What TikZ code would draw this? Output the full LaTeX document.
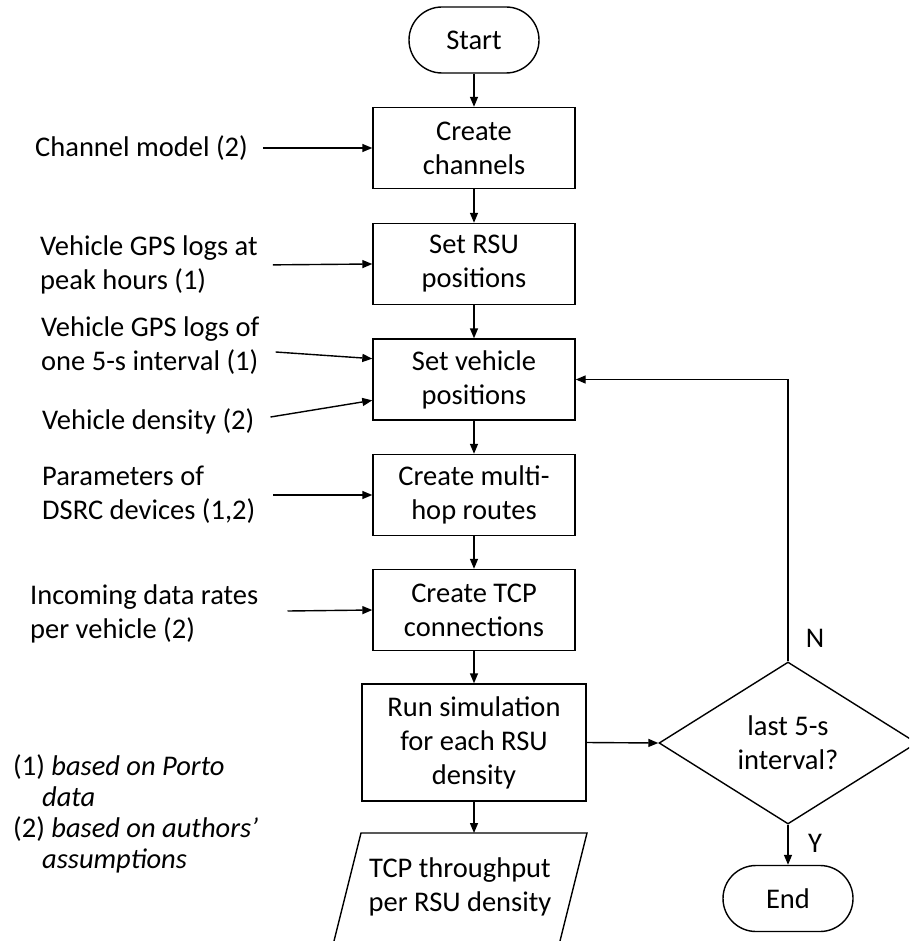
\documentclass[tikz,border=0pt]{standalone}
\usepackage{fontspec}
\setmainfont{Carlito}
\usetikzlibrary{shapes.geometric,arrows.meta,calc}
\begin{document}
\begin{tikzpicture}[x=1pt,y=-1pt,
  every node/.style={font=\fontsize{28.5}{34}\selectfont, inner sep=0pt},
  proc/.style={draw, line width=1.4pt, minimum width=202pt, minimum height=81pt, align=center},
  term/.style={draw, line width=1.4pt, rounded corners=33pt, minimum width=130pt, minimum height=66pt},
  inp/.style={anchor=west, align=left},
  arr/.style={line width=1.4pt, -{Triangle[length=10pt,width=8pt]}},
  dec/.style={draw, diamond, aspect=1.6, minimum width=258pt, minimum height=162pt, align=center, line width=1.4pt},
  lab/.style={}
]
\useasboundingbox (0,0) rectangle (909,941);
\clip (0,0) rectangle (909,941);

% main flow
\node[term] (start) at (474,40) {Start};
\node[proc] (ch) at (474,148) {Create\\channels};
\node[proc] (rsu) at (474,264) {Set RSU\\positions};
\node[proc] (veh) at (474,379.5) {Set vehicle\\positions};
\node[proc] (mh) at (474,495) {Create multi-\\hop routes};
\node[proc] (tcp) at (474,610) {Create TCP\\connections};
\node[proc, minimum width=224pt, minimum height=117pt] (run) at (474,742.5) {Run simulation\\for each RSU\\density};
\node[align=center] (out) at (460,887) {TCP throughput\\per RSU density};
\draw[line width=1.4pt] (361,833) -- (587,833) -- (559,945) -- (333,945) -- cycle;
\coordinate (ptop) at (474,833);

\node[dec] (dec) at (788,743) {last 5-s\\interval?};
\node[term] (end) at (788,898.5) {End};
\node[lab] (nlab) at (815,638) {N};
\node[lab] (ylab) at (815,843) {Y};

\draw[arr] (start) -- (ch);
\draw[arr] (ch) -- (rsu);
\draw[arr] (rsu) -- (veh);
\draw[arr] (veh) -- (mh);
\draw[arr] (mh) -- (tcp);
\draw[arr] (tcp) -- (run);
\draw[arr] (run.south) -- (ptop);
\draw[arr] (run.east) -- (dec.west);
\draw[arr] (dec.north) |- (veh.east);
\draw[arr] (dec.south) -- (end.north);

% inputs
\node[inp] (i1) at (35,148) {Channel model (2)};
\node[inp] (i2) at (40,265) {Vehicle GPS logs at\\peak hours (1)};
\node[inp] (i3) at (41,346) {Vehicle GPS logs of\\one 5-s interval (1)};
\node[inp] (i4) at (42,421) {Vehicle density (2)};
\node[inp] (i5) at (42,495) {Parameters of\\DSRC devices (1,2)};
\node[inp] (i6) at (30,614) {Incoming data rates\\per vehicle (2)};

\coordinate (vin1) at ($(veh.north west)!0.247!(veh.south west)$);
\coordinate (vin2) at ($(veh.north west)!0.753!(veh.south west)$);

\draw[arr, shorten <=15pt] (i1.east) -- (ch.west);
\draw[arr, shorten <=15pt] (i2.east) -- (rsu.west);
\draw[arr] ([shift={(16,6)}]i3.east) -- (vin1);
\draw[arr] ([shift={(16,-4)}]i4.east) -- (vin2);
\draw[arr, shorten <=18pt] (i5.east) -- (mh.west);
\draw[arr] ([shift={(29,-3)}]i6.east) -- (tcp.west);

% notes
\node[anchor=west, align=left, font=\fontsize{28.5}{31}\selectfont] (notes) at (13,814)
  {(1) \textit{based on Porto}\\\hspace*{29pt}\textit{data}\\(2) \textit{based on authors'}\\\hspace*{29pt}\textit{assumptions}};
\end{tikzpicture}
\end{document}
